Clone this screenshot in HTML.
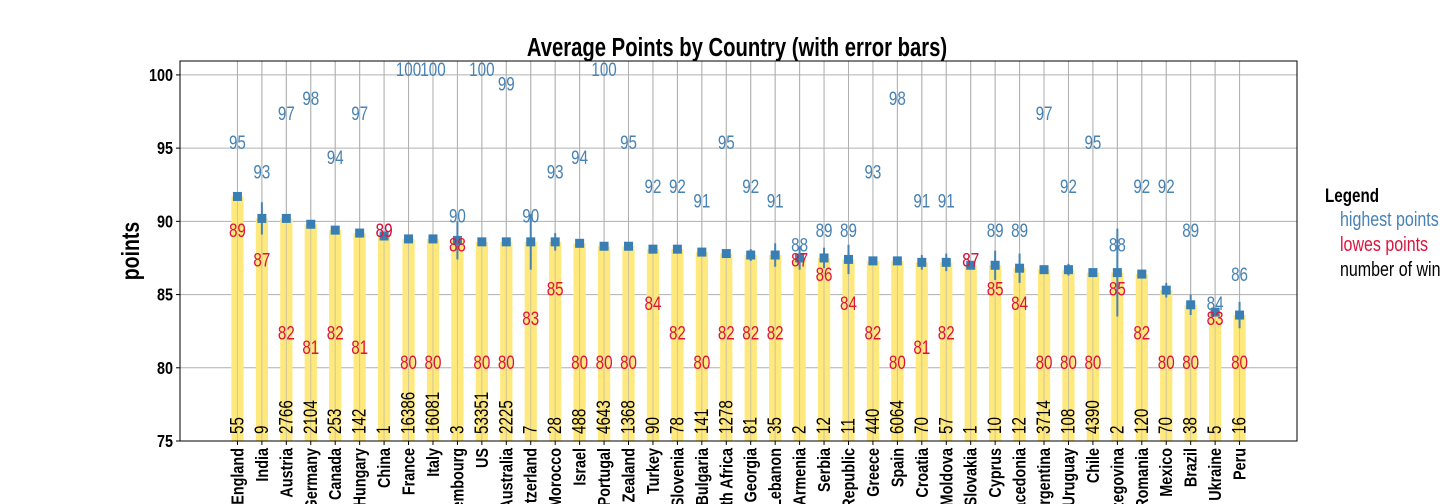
<!DOCTYPE html>
<html><head><meta charset="utf-8"><style>
html,body{margin:0;padding:0;background:#fff;overflow:hidden;width:1440px;height:504px}
svg{display:block;font-family:"Liberation Sans",sans-serif;overflow:hidden}
</style></head><body>
<svg id="chart" width="1440" height="504" viewBox="0 0 1440 504" xmlns="http://www.w3.org/2000/svg">
<defs><clipPath id="frameclip"><rect x="0" y="0" width="1440" height="504"/></clipPath></defs>
<g clip-path="url(#frameclip)">
<text transform="translate(737,56) scale(0.78,1)" text-anchor="middle" font-size="26" font-weight="bold">Average Points by Country (with error bars)</text>
<text transform="translate(139,251) rotate(-90) scale(0.78,1)" text-anchor="middle" font-size="25" font-weight="bold">points</text>
<g id="grid"></g><g id="marks"></g><g id="labels"></g>
<rect x="180" y="61" width="1117" height="380" fill="none" stroke="#000" stroke-width="1"/>
<g>
<text transform="translate(1325,202) scale(0.8,1)" font-size="19" font-weight="bold">Legend</text>
<text transform="translate(1340,226) scale(0.8,1)" font-size="20" fill="#4682b4">highest points</text>
<text transform="translate(1340,251) scale(0.8,1)" font-size="20" fill="#dc143c">lowes points</text>
<text transform="translate(1340,276) scale(0.8,1)" font-size="20" fill="#000">number of wines</text>
</g>
</g>
</svg>
<script>
const countries=["England","India","Austria","Germany","Canada","Hungary","China","France","Italy","Luxembourg","US","Australia","Switzerland","Morocco","Israel","Portugal","New Zealand","Turkey","Slovenia","Bulgaria","South Africa","Georgia","Lebanon","Armenia","Serbia","Czech Republic","Greece","Spain","Croatia","Moldova","Slovakia","Cyprus","Macedonia","Argentina","Uruguay","Chile","Bosnia and Herzegovina","Romania","Mexico","Brazil","Ukraine","Peru"];
const meanPoints=[91.7,90.2,90.2,89.8,89.4,89.2,89.0,88.8,88.8,88.7,88.6,88.6,88.6,88.6,88.5,88.3,88.3,88.1,88.1,87.9,87.8,87.7,87.7,87.5,87.5,87.4,87.3,87.3,87.2,87.2,87.0,87.0,86.8,86.7,86.7,86.5,86.5,86.4,85.3,84.3,83.8,83.6];
const errPoints=[0.3,1.1,0.1,0.1,0.2,0.3,0,0.05,0.05,1.3,0.05,0.1,1.9,0.6,0.1,0.05,0.1,0.3,0.3,0.3,0.1,0.4,0.8,0.8,0.7,1.0,0.1,0.1,0.5,0.6,0,1.0,1.0,0.1,0.4,0.1,3.0,0.3,0.5,0.7,0.2,0.9];
const maxPoints=[95,93,97,98,94,97,89,100,100,90,100,99,90,93,94,100,95,92,92,91,95,92,91,88,89,89,93,98,91,91,87,89,89,97,92,95,88,92,92,89,84,86];
const minPoints=[89,87,82,81,82,81,89,80,80,88,80,80,83,85,80,80,80,84,82,80,82,82,82,87,86,84,82,80,81,82,87,85,84,80,80,80,85,82,80,80,83,80];
const wineCounts=[55,9,2766,2104,253,142,1,16386,16081,3,53351,2225,7,28,488,4643,1368,90,78,141,1278,81,35,2,12,11,440,6064,70,57,1,10,12,3714,108,4390,2,120,70,38,5,16];
const yTicks=[75,80,85,90,95,100];

const NS="http://www.w3.org/2000/svg";
const X0=180,X1=1297,Y0=61,Y1=441,yMin=75,yMax=100.95;
const step=(X1-X0)/(countries.length-1+4.7);
function xs(i){return X0+step*2.35+i*step;}
function ys(v){return Y1-(v-yMin)/(yMax-yMin)*(Y1-Y0);}
function mk(tag,attrs,parent,txt){const e=document.createElementNS(NS,tag);for(const k in attrs)e.setAttribute(k,attrs[k]);if(txt!==undefined)e.textContent=txt;parent.appendChild(e);return e;}
const grid=document.getElementById('grid'),marks=document.getElementById('marks'),labels=document.getElementById('labels');
const SX=0.8;

yTicks.forEach(t=>{
  const l=mk('line',{x1:X0,x2:X1,y1:ys(t),y2:ys(t),stroke:'#b0b0b0','stroke-width':1},grid);
  
  
  const tk=mk('line',{x1:X0-4,x2:X0,y1:ys(t),y2:ys(t),stroke:'#000'},grid);
  
  
  const tx=mk('text',{'text-anchor':'end','font-size':18,'font-weight':'bold',transform:'translate('+(X0-7)+','+(ys(t)+6)+') scale('+SX+',1)'},grid,String(t));
  
  
});
countries.forEach((c,i)=>{
  const x=xs(i);
  const g=mk('line',{x1:x,x2:x,y1:Y0,y2:Y1,stroke:'#b0b0b0','stroke-width':1},grid);
  
  
  const b=mk('rect',{x:x-step*0.25,y:ys(meanPoints[i]),width:step*0.5,height:Y1-ys(meanPoints[i]),fill:'#ffe87c'},marks);
  
  
  const gl=mk('line',{x1:x,x2:x,y1:Y0,y2:Y1,stroke:'#b0b0b0','stroke-width':1,opacity:0.6},marks);
  
  
  const e=mk('line',{x1:x,x2:x,y1:ys(meanPoints[i]+errPoints[i]),y2:ys(meanPoints[i]-errPoints[i]),stroke:'#4682b4','stroke-width':2},marks);
  
  
  const m=mk('rect',{x:x-4.5,y:ys(meanPoints[i])-4.5,width:9,height:9,fill:'#3a7fb4'},marks);
  
  
  const tm=mk('text',{'text-anchor':'middle','font-size':19,fill:'#4682b4',transform:'translate('+x+','+(ys(maxPoints[i])+1)+') scale('+SX+',1)'},labels,String(maxPoints[i]));
  
  
  const tn=mk('text',{'text-anchor':'middle','font-size':19,fill:'#dc143c',transform:'translate('+x+','+(ys(minPoints[i])+1)+') scale('+SX+',1)'},labels,String(minPoints[i]));
  
  
  const tc=mk('text',{'font-size':19,fill:'#000',transform:'translate('+(x+6)+','+(Y1-7)+') rotate(-90) scale('+SX+',1)'},labels,String(wineCounts[i]));
  
  
  const xt=mk('line',{x1:x,x2:x,y1:Y1,y2:Y1+4,stroke:'#000'},grid);
  
  
  const xl=mk('text',{'font-size':18,'font-weight':'bold','text-anchor':'end',transform:'translate('+(x+6)+','+(Y1+7)+') rotate(-90) scale('+SX+',1)'},labels,c);
  
  
});
</script>
</body></html>
